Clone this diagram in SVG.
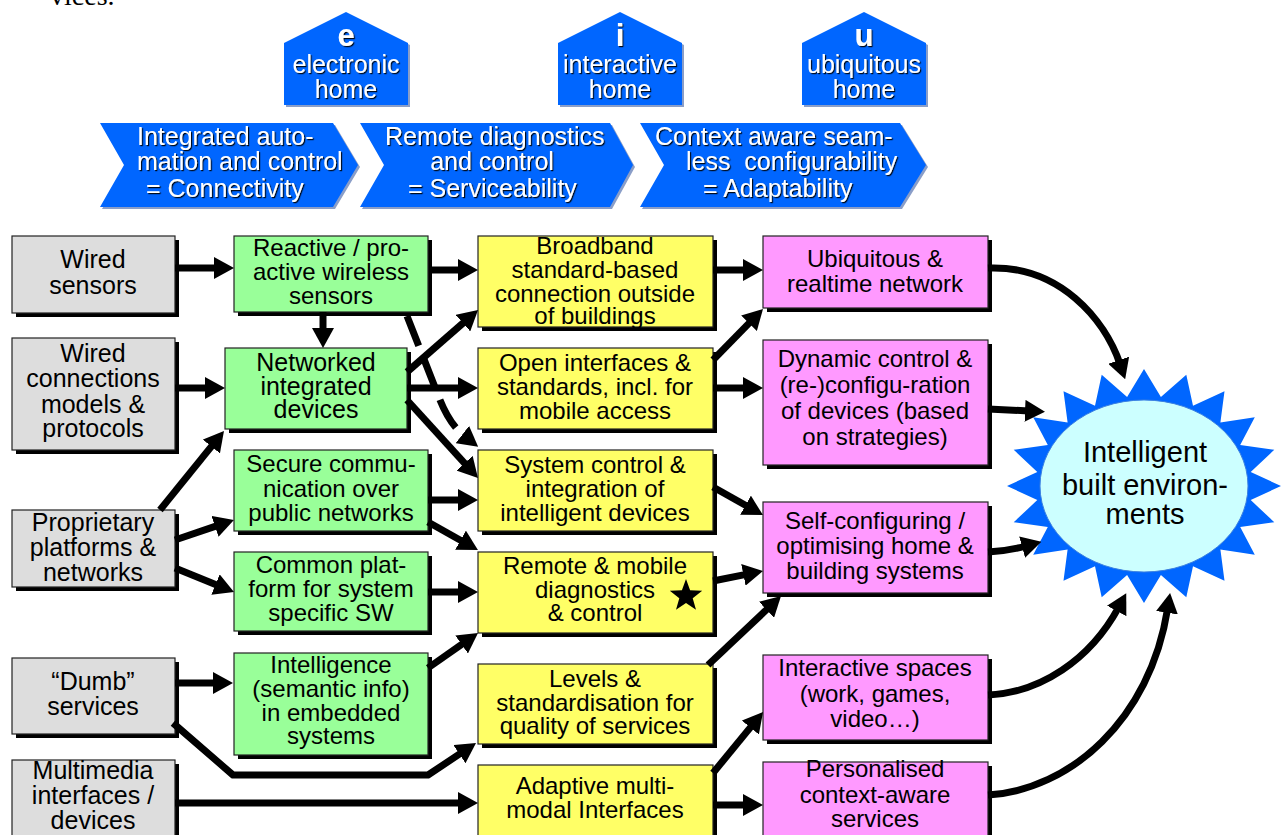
<svg xmlns="http://www.w3.org/2000/svg" width="1284" height="835" viewBox="0 0 1284 835">
<defs>
<style>
.t{font-family:"Liberation Sans",Arial,sans-serif;font-size:24px;fill:#000;text-anchor:middle}
.t25{font-size:25px}
.big{font-size:29px}
.w{font-family:"Liberation Sans",Arial,sans-serif;font-size:25px;fill:#fff}
.wl{font-size:31px;font-weight:bold}
.wc{text-anchor:middle}
.box{stroke:#222;stroke-width:1.2}
.sh{fill:#000}
.grey{fill:#DDDDDD}
.green{fill:#99FF99}
.yellow{fill:#FFFF66}
.pink{fill:#FF99FF}
.blue{fill:#0066FF}
.bsh{fill:#2a4f9a;opacity:0.55}
.c{fill:none;stroke:#000;stroke-width:7;marker-end:url(#ah)}
</style>
<marker id="ah" viewBox="0 0 20 22" markerWidth="20" markerHeight="22" refX="4" refY="11" orient="auto" markerUnits="userSpaceOnUse"><path d="M0,0 L20,11 L0,22 z" fill="#000"/></marker>
<filter id="ts" x="-5%" y="-10%" width="110%" height="130%"><feDropShadow dx="1.2" dy="1.2" stdDeviation="0.3" flood-color="#000" flood-opacity="0.9"/></filter>
</defs>
<rect width="1284" height="835" fill="#fff"/>
<text x="50" y="5" font-family="'Liberation Serif',serif" font-size="28">vices.</text>

<!-- houses -->
<g id="house-e">
<polygon class="bsh" points="286,45 348,14 410,45 410,107 286,107"/>
<polygon class="blue" points="284,43 346,12 408,43 408,105 284,105"/>
<g filter="url(#ts)"><text class="w wc wl" x="346" y="46">e</text><text class="w wc" x="346" y="73">electronic</text><text class="w wc" x="346" y="98">home</text></g>
</g>
<g id="house-i">
<polygon class="bsh" points="560,45 622,14 684,45 684,107 560,107"/>
<polygon class="blue" points="558,43 620,12 682,43 682,105 558,105"/>
<g filter="url(#ts)"><text class="w wc wl" x="620" y="46">i</text><text class="w wc" x="620" y="73">interactive</text><text class="w wc" x="620" y="98">home</text></g>
</g>
<g id="house-u">
<polygon class="bsh" points="804,45 866,14 928,45 928,107 804,107"/>
<polygon class="blue" points="802,43 864,12 926,43 926,105 802,105"/>
<g filter="url(#ts)"><text class="w wc wl" x="864" y="46">u</text><text class="w wc" x="864" y="73">ubiquitous</text><text class="w wc" x="864" y="98">home</text></g>
</g>

<!-- banners -->
<g id="banner-connectivity">
<polygon class="bsh" points="102,125 335,125 360,167 335,209 102,209 126,167"/>
<polygon class="blue" points="100,123 333,123 358,165 333,207 100,207 124,165"/>
<g filter="url(#ts)"><text class="w" x="137" y="145">Integrated auto-</text><text class="w" x="137" y="170">mation and control</text><text class="w" x="146" y="197">= Connectivity</text></g>
</g>
<g id="banner-serviceability">
<polygon class="bsh" points="362,125 612,125 635,167 612,209 362,209 386,167"/>
<polygon class="blue" points="360,123 610,123 633,165 610,207 360,207 384,165"/>
<g filter="url(#ts)"><text class="w" x="385" y="145">Remote diagnostics</text><text class="w wc" x="492" y="170">and control</text><text class="w" x="408" y="197">= Serviceability</text></g>
</g>
<g id="banner-adaptability">
<polygon class="bsh" points="642,125 902,125 928,167 902,209 642,209 666,167"/>
<polygon class="blue" points="640,123 900,123 926,165 900,207 640,207 664,165"/>
<g filter="url(#ts)"><text class="w" x="655" y="145">Context aware seam-</text><text class="w" x="686" y="170" xml:space="preserve">less  configurability</text><text class="w" x="703" y="197">= Adaptability</text></g>
</g>

<!-- column 1 -->
<g id="wired-sensors"><rect class="sh" x="16" y="240" width="163" height="77"/><rect class="box grey" x="12" y="236" width="163" height="77"/>
<text class="t t25"><tspan x="93" y="268">Wired</tspan><tspan x="93" y="294">sensors</tspan></text></g>
<g id="wired-connections"><rect class="sh" x="16" y="342" width="163" height="112"/><rect class="box grey" x="12" y="338" width="163" height="112"/>
<text class="t t25"><tspan x="93" y="362">Wired</tspan><tspan x="93" y="387">connections</tspan><tspan x="93" y="413">models &amp;</tspan><tspan x="93" y="437">protocols</tspan></text></g>
<g id="proprietary"><rect class="sh" x="16" y="514" width="163" height="77"/><rect class="box grey" x="12" y="510" width="163" height="77"/>
<text class="t t25"><tspan x="93" y="531">Proprietary</tspan><tspan x="93" y="556">platforms &amp;</tspan><tspan x="93" y="581">networks</tspan></text></g>
<g id="dumb-services"><rect class="sh" x="16" y="662" width="163" height="76"/><rect class="box grey" x="12" y="658" width="163" height="76"/>
<text class="t t25"><tspan x="93" y="690">“Dumb”</tspan><tspan x="93" y="715">services</tspan></text></g>
<g id="multimedia"><rect class="sh" x="16" y="764" width="163" height="90"/><rect class="box grey" x="12" y="760" width="163" height="90"/>
<text class="t t25"><tspan x="93" y="779">Multimedia</tspan><tspan x="93" y="804">interfaces /</tspan><tspan x="93" y="829">devices</tspan></text></g>

<!-- column 2 -->
<g id="reactive"><rect class="sh" x="238" y="240" width="194" height="76"/><rect class="box green" x="234" y="236" width="194" height="76"/>
<text class="t"><tspan x="331" y="256">Reactive / pro-</tspan><tspan x="331" y="280">active wireless</tspan><tspan x="331" y="304">sensors</tspan></text></g>
<g id="networked"><rect class="sh" x="229" y="352" width="182" height="81"/><rect class="box green" x="225" y="348" width="182" height="81"/>
<text class="t t25"><tspan x="316" y="371">Networked</tspan><tspan x="316" y="395">integrated</tspan><tspan x="316" y="418">devices</tspan></text></g>
<g id="secure"><rect class="sh" x="238" y="454" width="194" height="81"/><rect class="box green" x="234" y="450" width="194" height="81"/>
<text class="t"><tspan x="331" y="472">Secure commu-</tspan><tspan x="331" y="497">nication over</tspan><tspan x="331" y="521">public networks</tspan></text></g>
<g id="common-platform"><rect class="sh" x="238" y="556" width="194" height="79"/><rect class="box green" x="234" y="552" width="194" height="79"/>
<text class="t"><tspan x="331" y="573">Common plat-</tspan><tspan x="331" y="597">form for system</tspan><tspan x="331" y="621">specific SW</tspan></text></g>
<g id="intelligence"><rect class="sh" x="238" y="657" width="194" height="102"/><rect class="box green" x="234" y="653" width="194" height="102"/>
<text class="t"><tspan x="331" y="673">Intelligence</tspan><tspan x="331" y="697">(semantic info)</tspan><tspan x="331" y="721">in embedded</tspan><tspan x="331" y="744">systems</tspan></text></g>

<!-- column 3 -->
<g id="broadband"><rect class="sh" x="482" y="240" width="235" height="91"/><rect class="box yellow" x="478" y="236" width="235" height="91"/>
<text class="t"><tspan x="595" y="254">Broadband</tspan><tspan x="595" y="278">standard-based</tspan><tspan x="595" y="302">connection outside</tspan><tspan x="595" y="324">of buildings</tspan></text></g>
<g id="open-interfaces"><rect class="sh" x="482" y="352" width="235" height="81"/><rect class="box yellow" x="478" y="348" width="235" height="81"/>
<text class="t"><tspan x="595" y="371">Open interfaces &amp;</tspan><tspan x="595" y="395">standards, incl. for</tspan><tspan x="595" y="419">mobile access</tspan></text></g>
<g id="system-control"><rect class="sh" x="482" y="454" width="235" height="81"/><rect class="box yellow" x="478" y="450" width="235" height="81"/>
<text class="t"><tspan x="595" y="473">System control &amp;</tspan><tspan x="595" y="497">integration of</tspan><tspan x="595" y="521">intelligent devices</tspan></text></g>
<g id="remote-mobile"><rect class="sh" x="482" y="556" width="235" height="81"/><rect class="box yellow" x="478" y="552" width="235" height="81"/>
<text class="t"><tspan x="595" y="574">Remote &amp; mobile</tspan><tspan x="595" y="598">diagnostics</tspan><tspan x="595" y="621">&amp; control</tspan></text>
<polygon fill="#000" points="686,579 690.1,590.3 702.2,590.7 692.7,598.2 696,609.8 686,603 676,609.8 679.3,598.2 669.8,590.7 681.9,590.3"/></g>
<g id="levels"><rect class="sh" x="482" y="668" width="235" height="80"/><rect class="box yellow" x="478" y="664" width="235" height="80"/>
<text class="t"><tspan x="595" y="687">Levels &amp;</tspan><tspan x="595" y="711">standardisation for</tspan><tspan x="595" y="734">quality of services</tspan></text></g>
<g id="adaptive"><rect class="sh" x="482" y="769" width="235" height="85"/><rect class="box yellow" x="478" y="765" width="235" height="85"/>
<text class="t"><tspan x="595" y="794">Adaptive multi-</tspan><tspan x="595" y="818">modal Interfaces</tspan></text></g>

<!-- column 4 -->
<g id="ubiquitous-network"><rect class="sh" x="767" y="240" width="225" height="72"/><rect class="box pink" x="763" y="236" width="225" height="72"/>
<text class="t"><tspan x="875" y="267">Ubiquitous &amp;</tspan><tspan x="875" y="292">realtime network</tspan></text></g>
<g id="dynamic-control"><rect class="sh" x="767" y="344" width="225" height="125"/><rect class="box pink" x="763" y="340" width="225" height="125"/>
<text class="t"><tspan x="875" y="367">Dynamic control &amp;</tspan><tspan x="875" y="393">(re-)configu-ration</tspan><tspan x="875" y="419">of devices (based</tspan><tspan x="875" y="445">on strategies)</tspan></text></g>
<g id="self-configuring"><rect class="sh" x="767" y="506" width="225" height="91"/><rect class="box pink" x="763" y="502" width="225" height="91"/>
<text class="t"><tspan x="875" y="529">Self-configuring /</tspan><tspan x="875" y="554">optimising home &amp;</tspan><tspan x="875" y="579">building systems</tspan></text></g>
<g id="interactive-spaces"><rect class="sh" x="767" y="659" width="225" height="85"/><rect class="box pink" x="763" y="655" width="225" height="85"/>
<text class="t"><tspan x="875" y="676">Interactive spaces</tspan><tspan x="875" y="702">(work, games,</tspan><tspan x="875" y="727">video…)</tspan></text></g>
<g id="personalised"><rect class="sh" x="767" y="766" width="225" height="85"/><rect class="box pink" x="763" y="762" width="225" height="85"/>
<text class="t"><tspan x="875" y="777">Personalised</tspan><tspan x="875" y="803">context-aware</tspan><tspan x="875" y="827">services</tspan></text></g>

<!-- goal -->
<g id="intelligent-built-environments">
<polygon class="blue" points="1281,486 1250.7,500.1 1274.3,522.2 1240.2,526.9 1254.8,554.8 1220.4,549.6 1224.5,580.7 1193,566.2 1186.3,597.3 1160.9,574.9 1144,603 1127.1,574.9 1101.7,597.3 1095,566.2 1063.5,580.7 1067.6,549.6 1033.2,554.8 1047.8,526.9 1013.7,522.2 1037.3,500.1 1007,486 1037.3,471.9 1013.7,449.8 1047.8,445.1 1033.2,417.2 1067.6,422.4 1063.5,391.3 1095,405.8 1101.7,374.7 1127.1,397.1 1144,369 1160.9,397.1 1186.3,374.7 1193,405.8 1224.5,391.3 1220.4,422.4 1254.8,417.2 1240.2,445.1 1274.3,449.8 1250.7,471.9"/>
<ellipse cx="1144" cy="486" rx="104" ry="86" fill="#CCFFFF" stroke="#3a7fe0" stroke-width="1"/>
<text class="t big"><tspan x="1145" y="462">Intelligent</tspan><tspan x="1145" y="495">built environ-</tspan><tspan x="1145" y="524">ments</tspan></text>
</g>

<!-- connectors -->
<g id="connectors">
<path class="c" d="M175,268 L218,268"/>
<path class="c" d="M175,388 L209,388"/>
<path class="c" d="M160,510 L213.9,443.4"/>
<path class="c" d="M175,540 L218.8,525.1"/>
<path class="c" d="M175,568 L219.2,586"/>
<path class="c" d="M175,683 L217,683"/>
<path class="c" stroke-linejoin="round" d="M173,723 L233,775 L428,775 L462.7,751.9"/>
<path class="c" d="M175,803 L462,803"/>
<path class="c" d="M323,312 L323,332"/>
<path class="c" d="M430,270 L462,270"/>
<path class="c" stroke-dasharray="32 13" d="M407,316 L440,400 Q450,425 465.5,437"/>
<path class="c" d="M407,372 L466,320.5"/>
<path class="c" d="M407,388 L462,388"/>
<path class="c" d="M407,400 L467.2,466.2"/>
<path class="c" d="M428,500 L462,500"/>
<path class="c" d="M428,522 L464,542.2"/>
<path class="c" d="M428,592 L462,592"/>
<path class="c" d="M428,668 L464.9,642.2"/>
<path class="c" d="M713,270 L747,270"/>
<path class="c" d="M713,360 L751.8,320.4"/>
<path class="c" d="M713,388 L747,388"/>
<path class="c" d="M713,487 L749,507.2"/>
<path class="c" d="M713,581 L747.3,574.1"/>
<path class="c" d="M708,665 L769.4,607"/>
<path class="c" d="M713,773 L752.9,724.4"/>
<path class="c" d="M713,805 L747,805"/>
<path class="c" d="M988,268 C1060,265 1105,320 1120,364"/>
<path class="c" d="M988,409 L1029,411"/>
<path class="c" d="M988,552 Q1008,551 1026,546"/>
<path class="c" d="M988,695 C1040,693 1090,660 1118.6,607.4"/>
<path class="c" d="M988,795 C1070,790 1150,720 1167.6,608.8"/>
</g>
</svg>
